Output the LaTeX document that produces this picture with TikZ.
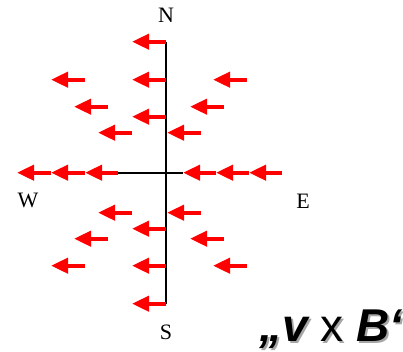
\documentclass[tikz,border=0pt]{standalone}
\usepackage{fontspec}
\setmainfont{Liberation Serif}
\newfontfamily\vxbfont{Liberation Sans}
\usetikzlibrary{arrows.meta,positioning,calc}
\definecolor{fieldred}{RGB}{255,0,0}

\begin{document}
\begin{tikzpicture}[x=1pt,y=1pt,
    field/.style={-{Triangle[length=17pt,width=15pt]}, line width=4pt, fieldred},
    axis/.style={line width=2pt, black},
    compass/.style={font=\fontsize{22}{22}\selectfont},
    vxb/.style={anchor=base west, font=\vxbfont\fontsize{46}{46}\selectfont\bfseries\itshape}]
    \useasboundingbox (0,0) rectangle (403,352);
    \coordinate (O) at (166,179.3);

    % Compass cross
    \coordinate (Ntop) at ($(O)+(0,131)$);
    \coordinate (Sbot) at ($(O)+(0,-131)$);
    \coordinate (Wend) at ($(O)+(-49,0)$);
    \coordinate (Eend) at ($(O)+(17,0)$);
    \draw[axis] (Ntop) -- (Sbot);
    \draw[axis] (Wend) -- (Eend);

    % Arrows starting on the N-S line
    \foreach \dy in {131,93,56,-56,-93,-131}
        \draw[field] ($(O)+(0,\dy)$) -- ++(-34,0);

    % Arrows off the line (mirrored above and below)
    \foreach \s in {1,-1} {
        \draw[field] ($(O)+(35,40*\s)$) -- ++(-34,0);
        \draw[field] ($(O)+(-34,40*\s)$) -- ++(-34,0);
        \draw[field] ($(O)+(58,66*\s)$) -- ++(-34,0);
        \draw[field] ($(O)+(-58,66*\s)$) -- ++(-34,0);
        \draw[field] ($(O)+(81,93*\s)$) -- ++(-34,0);
        \draw[field] ($(O)+(-81,93*\s)$) -- ++(-34,0);
    }

    % Chains along the W-E line
    \foreach \a/\b in {-48/-81,-81/-115,-115/-149,116/83,83/50,50/17}
        \draw[field] ($(O)+(\a,0)$) -- ($(O)+(\b,0)$);

    % Labels
    \node[compass] (N) at (166,337) {N};
    \node[compass] (S) at (166,20) {S};
    \node[compass] (W) at (28,152) {W};
    \node[compass] (E) at (303,151) {E};
    \node[vxb, text=black!35] (vxbshadow) at (258,8) {„v {\mdseries\upshape x} B“};
    \node[vxb] (vxbtext) at (256,10) {„v {\mdseries\upshape x} B“};
\end{tikzpicture}
\end{document}
